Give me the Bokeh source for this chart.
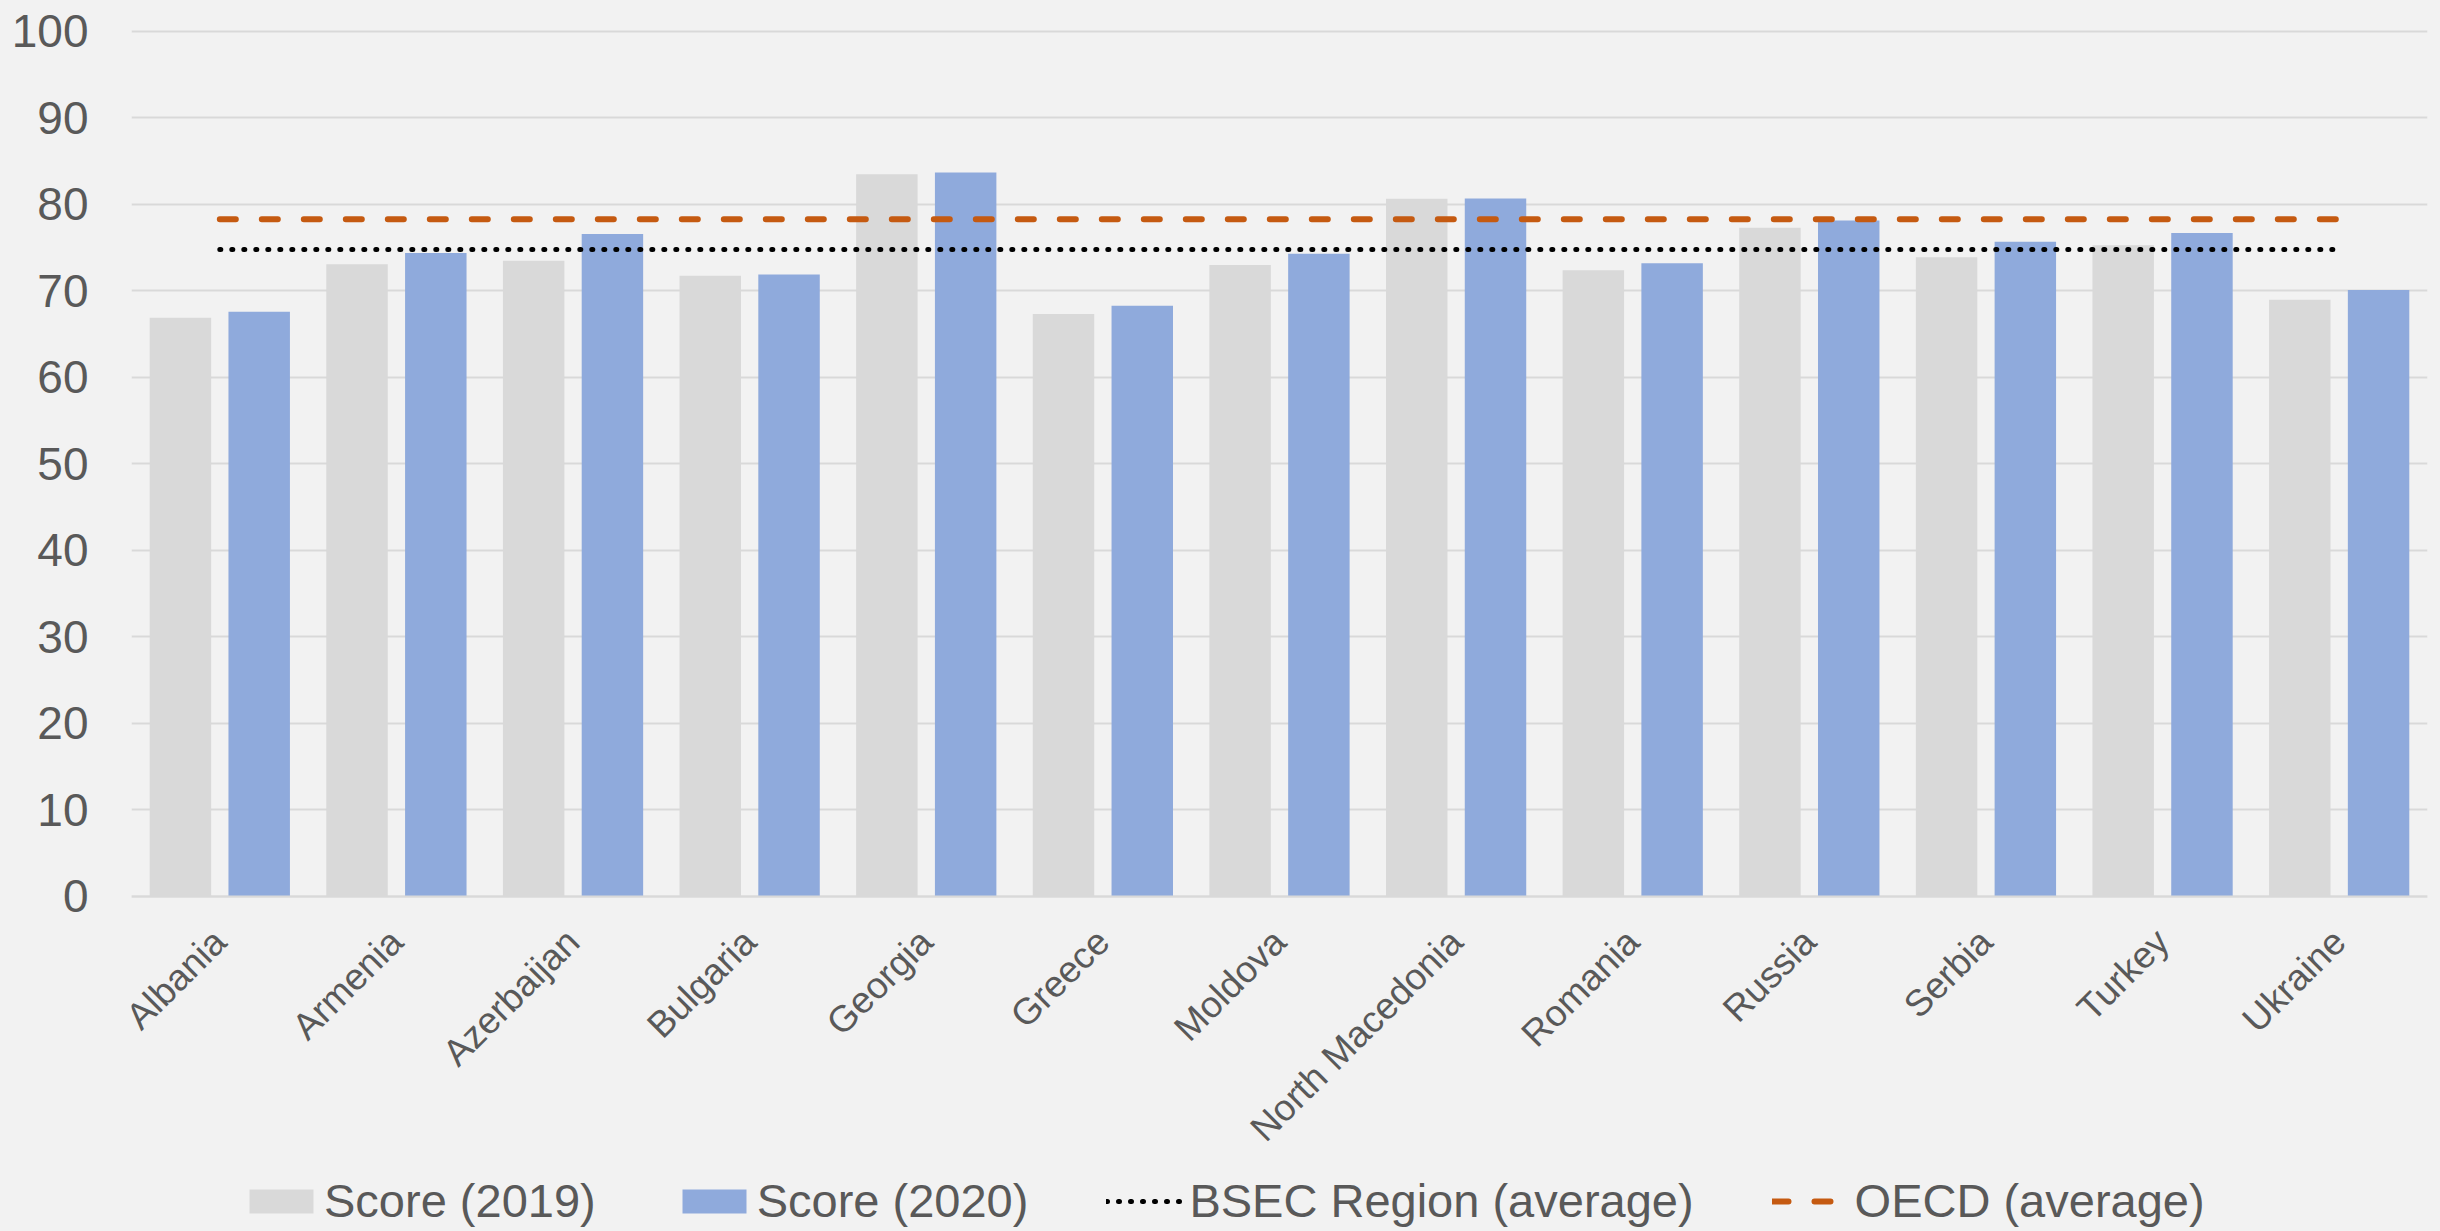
import math
from bokeh.plotting import figure
from bokeh.models import (ColumnDataSource, FactorRange, Range1d, Legend, LegendItem,
                          FixedTicker)
from bokeh.transform import dodge
from bokeh.embed import file_html
from bokeh.resources import INLINE

countries = ["Albania", "Armenia", "Azerbaijan", "Bulgaria", "Georgia", "Greece",
             "Moldova", "North Macedonia", "Romania", "Russia", "Serbia", "Turkey", "Ukraine"]
score_2019 = [66.9, 73.1, 73.5, 71.75, 83.5, 67.35, 73.0, 80.65, 72.4, 77.3, 73.9, 75.3, 69.0]
score_2020 = [67.6, 74.4, 76.6, 71.9, 83.7, 68.3, 74.3, 80.7, 73.2, 78.15, 75.7, 76.7, 70.1]
bsec_avg = 74.8
oecd_avg = 78.3
y_ticks = [0, 10, 20, 30, 40, 50, 60, 70, 80, 90, 100]

TEXT = "#595959"
BG = "#F2F2F2"
FONT = "Liberation Sans"

src = ColumnDataSource(dict(country=countries, s19=score_2019, s20=score_2020))

# frame extends below zero so the category labels and legend sit inside it
p = figure(x_range=FactorRange(*countries, range_padding=0), y_range=Range1d(-38.73, 100.23),
           width=2440, height=1231, output_backend="svg", toolbar_location=None,
           min_border_left=131, min_border_right=13, min_border_top=29, min_border_bottom=0)
p.background_fill_color = BG
p.border_fill_color = BG
p.outline_line_color = None

r19 = p.vbar(x=dodge("country", -0.223, range=p.x_range), top="s19", width=0.348,
             source=src, fill_color="#D9D9D9", line_color=None)
r20 = p.vbar(x=dodge("country", 0.223, range=p.x_range), top="s20", width=0.348,
             source=src, fill_color="#8FAADC", line_color=None)
rb = p.line(x=[countries[0], countries[-1]], y=[bsec_avg, bsec_avg], line_color="black",
            line_width=5, line_dash="1 11", line_cap="round")
ro = p.line(x=[countries[0], countries[-1]], y=[oecd_avg, oecd_avg], line_color="#C55A11",
            line_width=6, line_dash="16 26", line_cap="round")

p.yaxis.ticker = FixedTicker(ticks=y_ticks)
p.yaxis.axis_line_color = None
p.yaxis.major_tick_line_color = None
p.yaxis.minor_tick_line_color = None
p.yaxis.major_label_standoff = 37
p.yaxis.major_label_text_font = FONT
p.yaxis.major_label_text_font_size = "46px"
p.yaxis.major_label_text_color = TEXT

p.xaxis.fixed_location = 0
p.xaxis.axis_line_color = "#D9D9D9"
p.xaxis.axis_line_width = 2
p.xaxis.major_tick_line_color = None
p.xaxis.minor_tick_line_color = None
p.xaxis.major_label_orientation = math.pi / 4
p.xaxis.major_label_standoff = 33
p.xaxis.major_label_text_font = FONT
p.xaxis.major_label_text_font_size = "37px"
p.xaxis.major_label_text_color = TEXT

p.xgrid.grid_line_color = None
p.ygrid.grid_line_color = "#D9D9D9"
p.ygrid.grid_line_width = 2

legend = Legend(items=[
    LegendItem(label="Score (2019)", renderers=[r19]),
    LegendItem(label="Score (2020)", renderers=[r20]),
    LegendItem(label="BSEC Region (average)", renderers=[rb]),
    LegendItem(label="OECD (average)", renderers=[ro]),
], orientation="horizontal", location=(110, 3), glyph_width=80, glyph_height=30,
    label_standoff=3, spacing=78, padding=0, margin=0,
    label_text_font=FONT, label_text_font_size="47px", label_text_color=TEXT,
    background_fill_alpha=0, border_line_color=None)
p.add_layout(legend, "center")

html = file_html(p, INLINE)
html = html.replace("<body>", '<body style="background:#F2F2F2">')
open("out.html", "w").write(html)
